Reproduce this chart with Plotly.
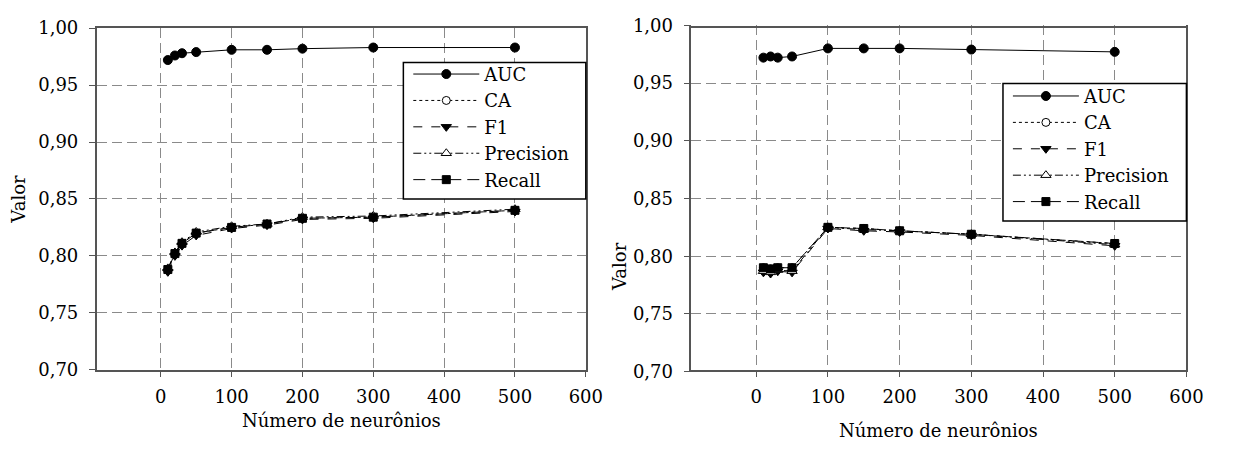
import plotly.graph_objects as go

# ---------------- data ----------------
neurons = [10, 20, 30, 50, 100, 150, 200, 300, 500]

auc_left = [0.972, 0.976, 0.978, 0.979, 0.981, 0.981, 0.982, 0.983, 0.983]
ca_left = [0.788, 0.802, 0.811, 0.820, 0.825, 0.828, 0.833, 0.834, 0.840]
f1_left = [0.786, 0.800, 0.809, 0.818, 0.824, 0.827, 0.832, 0.833, 0.839]
precision_left = [0.789, 0.803, 0.812, 0.821, 0.826, 0.828, 0.834, 0.835, 0.841]
recall_left = [0.788, 0.802, 0.811, 0.820, 0.825, 0.828, 0.833, 0.834, 0.840]

auc_right = [0.972, 0.973, 0.972, 0.973, 0.980, 0.980, 0.980, 0.979, 0.977]
ca_right = [0.790, 0.789, 0.790, 0.790, 0.825, 0.824, 0.822, 0.819, 0.811]
f1_right = [0.786, 0.785, 0.787, 0.786, 0.824, 0.822, 0.821, 0.818, 0.809]
precision_right = [0.787, 0.786, 0.788, 0.787, 0.825, 0.823, 0.822, 0.819, 0.810]
recall_right = [0.790, 0.789, 0.790, 0.790, 0.825, 0.824, 0.822, 0.819, 0.811]

series_names = ["AUC", "CA", "F1", "Precision", "Recall"]
x_ticks = [0, 100, 200, 300, 400, 500, 600]
y_ticks = [0.70, 0.75, 0.80, 0.85, 0.90, 0.95, 1.00]

# ---------------- styles ----------------
W, H = 1233, 457
FONT = "DejaVu Serif"
styles = {
    "AUC": dict(dash="solid", symbol="circle", fill="black", size=9),
    "CA": dict(dash="dot", symbol="circle", fill="white", size=8),
    "F1": dict(dash="dash", symbol="triangle-down", fill="black", size=9),
    "Precision": dict(dash="8px,3px,2px,3px,2px,3px", symbol="triangle-up", fill="white", size=9),
    "Recall": dict(dash="12px,6px", symbol="square", fill="black", size=8),
}

def px(v, total):
    return v / total

fig = go.Figure()

panels = [
    ("x", "y", "legend", [auc_left, ca_left, f1_left, precision_left, recall_left]),
    ("x2", "y2", "legend2", [auc_right, ca_right, f1_right, precision_right, recall_right]),
]
for xa, ya, lg, vals in panels:
    for name, v in zip(series_names, vals):
        s = styles[name]
        fig.add_trace(go.Scatter(
            x=neurons, y=v, name=name, xaxis=xa, yaxis=ya, legend=lg,
            mode="lines+markers",
            line=dict(color="black", width=1, dash=s["dash"]),
            marker=dict(symbol=s["symbol"], size=s["size"], color=s["fill"],
                        line=dict(color="black", width=1)),
        ))

# panel geometry (pixels)
L = dict(x0=98, x1=594, top=18, bottom=376)
R = dict(x0=701, x1=1203, top=15, bottom=378)

grid = dict(showgrid=True, gridcolor="#8a8a8a", gridwidth=1, griddash="10px,5px",
            showline=True, linecolor="#555555", linewidth=1.5, mirror=True,
            ticks="outside", ticklen=6, tickcolor="#555555", tickwidth=1,
            zeroline=False, tickfont=dict(family=FONT, size=18, color="black"))

def xaxis(p):
    return dict(domain=[px(p["x0"], W), px(p["x1"], W)], range=[-90.5, 600],
                tickvals=x_ticks, ticklabelstandoff=4, **grid)

def yaxis(p, anchor):
    return dict(domain=[1 - px(p["bottom"], H), 1 - px(p["top"], H)], range=[0.70, 1.00],
                tickvals=y_ticks, tickformat=".2f", ticklabelstandoff=7, anchor=anchor, **grid)

legend_common = dict(bgcolor="rgba(0,0,0,0)", borderwidth=0, tracegroupgap=0,
                     font=dict(family=FONT, size=18, color="black"),
                     xanchor="left", yanchor="top", itemwidth=66)

fig.update_layout(
    width=W, height=H, margin=dict(l=0, r=0, t=0, b=0),
    paper_bgcolor="white", plot_bgcolor="white",
    separators=", ",
    font=dict(family=FONT, size=18, color="black"),
    xaxis=xaxis(L), yaxis=yaxis(L, "x"),
    xaxis2=xaxis(R), yaxis2=yaxis(R, "x2"),
    legend=dict(x=px(414, W), y=1 - px(47, H), **legend_common),
    legend2=dict(x=px(1022, W), y=1 - px(70, H), **legend_common),
    shapes=[
        dict(type="rect", xref="paper", yref="paper", layer="above",
             x0=px(409, W), x1=px(594, W), y0=1 - px(197, H), y1=1 - px(54, H),
             fillcolor="white", line=dict(color="black", width=1.5)),
        dict(type="rect", xref="paper", yref="paper", layer="above",
             x0=px(1017, W), x1=px(1203, W), y0=1 - px(220, H), y1=1 - px(76, H),
             fillcolor="white", line=dict(color="black", width=1.5)),
    ],
    annotations=[
        dict(text="Valor", xref="paper", yref="paper", x=px(19, W), y=1 - px(197, H),
             textangle=-90, showarrow=False, font=dict(family=FONT, size=18),
             xanchor="center", yanchor="middle"),
        dict(text="Valor", xref="paper", yref="paper", x=px(628, W), y=1 - px(268, H),
             textangle=-90, showarrow=False, font=dict(family=FONT, size=18),
             xanchor="center", yanchor="middle"),
        dict(text="Número de neurônios", xref="paper", yref="paper", x=px(346, W), y=1 - px(429, H),
             showarrow=False, font=dict(family=FONT, size=18), xanchor="center", yanchor="middle"),
        dict(text="Número de neurônios", xref="paper", yref="paper", x=px(952, W), y=1 - px(440, H),
             showarrow=False, font=dict(family=FONT, size=18), xanchor="center", yanchor="middle"),
    ],
)

fig.write_html("out.html")
